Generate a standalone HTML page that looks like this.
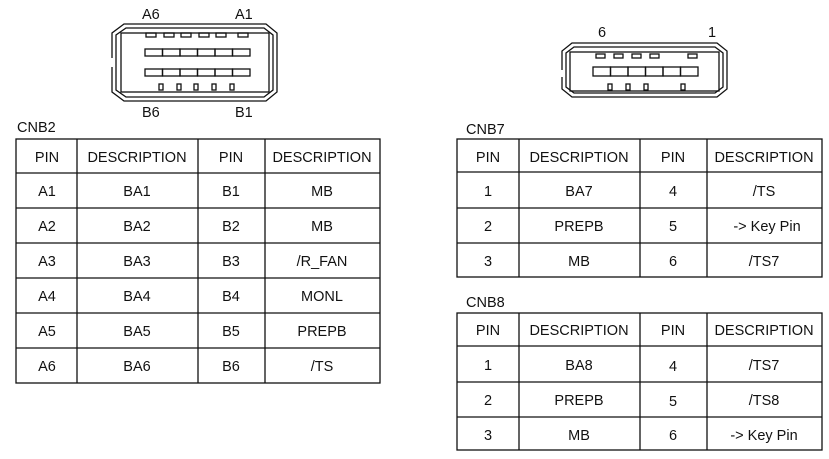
<!DOCTYPE html>
<html><head><meta charset="utf-8"><style>
body{margin:0;background:#fff;width:829px;height:459px;overflow:hidden}
svg{display:block}
text{font-family:"Liberation Sans",Arial,sans-serif;font-size:14.5px;fill:#111}
</style></head><body>
<svg width="829" height="459" viewBox="0 0 829 459" xmlns="http://www.w3.org/2000/svg">
<g fill="none" stroke="#111" stroke-width="1.3">
<polygon points="124,24 266,24 277,33 277,92 266,101 124,101 112,92 112,33"/>
<polygon points="126,28 264,28 273,35 273,90 264,97 126,97 116,90 116,35"/>
<rect x="121" y="33" width="148" height="59"/>
<line x1="112" y1="58" x2="112" y2="67" stroke="#fff" stroke-width="3"/>
<rect x="146" y="33" width="10" height="4"/><rect x="164" y="33" width="10" height="4"/><rect x="181" y="33" width="10" height="4"/><rect x="199" y="33" width="10" height="4"/><rect x="216" y="33" width="10" height="4"/><rect x="238" y="33" width="10" height="4"/>
<rect x="145" y="49" width="17.5" height="7"/><rect x="162.5" y="49" width="17.5" height="7"/><rect x="180" y="49" width="17.5" height="7"/><rect x="197.5" y="49" width="17.5" height="7"/><rect x="215" y="49" width="17.5" height="7"/><rect x="232.5" y="49" width="17.5" height="7"/>
<rect x="145" y="69" width="17.5" height="7"/><rect x="162.5" y="69" width="17.5" height="7"/><rect x="180" y="69" width="17.5" height="7"/><rect x="197.5" y="69" width="17.5" height="7"/><rect x="215" y="69" width="17.5" height="7"/><rect x="232.5" y="69" width="17.5" height="7"/>
<rect x="159" y="84" width="4" height="6"/><rect x="177" y="84" width="4" height="6"/><rect x="194" y="84" width="4" height="6"/><rect x="212" y="84" width="4" height="6"/><rect x="230" y="84" width="4" height="6"/>
<polygon points="572,43 717,43 727,51 727,89 717,97 572,97 562,89 562,51"/>
<polygon points="574,47 715,47 723,53 723,87 715,93 574,93 566,87 566,53"/>
<rect x="570" y="52" width="149" height="39"/>
<line x1="562" y1="70" x2="562" y2="77" stroke="#fff" stroke-width="3"/>
<rect x="596" y="54" width="9" height="4"/><rect x="614" y="54" width="9" height="4"/><rect x="632" y="54" width="9" height="4"/><rect x="650" y="54" width="9" height="4"/><rect x="688" y="54" width="9" height="4"/>
<rect x="593" y="67" width="17.5" height="9"/><rect x="610.5" y="67" width="17.5" height="9"/><rect x="628" y="67" width="17.5" height="9"/><rect x="645.5" y="67" width="17.5" height="9"/><rect x="663" y="67" width="17.5" height="9"/><rect x="680.5" y="67" width="17.5" height="9"/>
<rect x="608" y="84" width="4" height="6"/><rect x="626" y="84" width="4" height="6"/><rect x="644" y="84" width="4" height="6"/><rect x="681" y="84" width="4" height="6"/>
<rect x="16" y="139" width="364" height="244"/>
<line x1="77" y1="139" x2="77" y2="383"/><line x1="198" y1="139" x2="198" y2="383"/><line x1="265" y1="139" x2="265" y2="383"/>
<line x1="16" y1="173" x2="380" y2="173"/><line x1="16" y1="208" x2="380" y2="208"/><line x1="16" y1="243" x2="380" y2="243"/><line x1="16" y1="278" x2="380" y2="278"/><line x1="16" y1="313" x2="380" y2="313"/><line x1="16" y1="348" x2="380" y2="348"/>
<rect x="457" y="139" width="365" height="138"/>
<line x1="519" y1="139" x2="519" y2="277"/><line x1="640" y1="139" x2="640" y2="277"/><line x1="707" y1="139" x2="707" y2="277"/>
<line x1="457" y1="172" x2="822" y2="172"/><line x1="457" y1="208" x2="822" y2="208"/><line x1="457" y1="243" x2="822" y2="243"/>
<rect x="457" y="313" width="365" height="137"/>
<line x1="519" y1="313" x2="519" y2="450"/><line x1="640" y1="313" x2="640" y2="450"/><line x1="707" y1="313" x2="707" y2="450"/>
<line x1="457" y1="346" x2="822" y2="346"/><line x1="457" y1="382" x2="822" y2="382"/><line x1="457" y1="417" x2="822" y2="417"/>
</g>
<text x="142" y="19">A6</text><text x="235" y="19">A1</text>
<text x="142" y="117">B6</text><text x="235" y="117">B1</text>
<text x="598" y="37">6</text><text x="708" y="37">1</text>
<text x="17" y="132">CNB2</text><text x="466" y="134">CNB7</text><text x="466" y="307">CNB8</text>
<g text-anchor="middle">
<text x="47" y="162">PIN</text><text x="137" y="162">DESCRIPTION</text><text x="231" y="162">PIN</text><text x="322" y="162">DESCRIPTION</text>
<text x="47" y="196">A1</text><text x="137" y="196">BA1</text><text x="231" y="196">B1</text><text x="322" y="196">MB</text>
<text x="47" y="231">A2</text><text x="137" y="231">BA2</text><text x="231" y="231">B2</text><text x="322" y="231">MB</text>
<text x="47" y="266">A3</text><text x="137" y="266">BA3</text><text x="231" y="266">B3</text><text x="322" y="266">/R_FAN</text>
<text x="47" y="301">A4</text><text x="137" y="301">BA4</text><text x="231" y="301">B4</text><text x="322" y="301">MONL</text>
<text x="47" y="336">A5</text><text x="137" y="336">BA5</text><text x="231" y="336">B5</text><text x="322" y="336">PREPB</text>
<text x="47" y="371">A6</text><text x="137" y="371">BA6</text><text x="231" y="371">B6</text><text x="322" y="371">/TS</text>

<text x="488" y="162">PIN</text><text x="579" y="162">DESCRIPTION</text><text x="673" y="162">PIN</text><text x="764" y="162">DESCRIPTION</text>
<text x="488" y="196">1</text><text x="579" y="196">BA7</text><text x="673" y="196">4</text><text x="764" y="196">/TS</text>
<text x="488" y="231">2</text><text x="579" y="231">PREPB</text><text x="673" y="231">5</text><text x="767" y="231">-&gt; Key Pin</text>
<text x="488" y="266">3</text><text x="579" y="266">MB</text><text x="673" y="266">6</text><text x="764" y="266">/TS7</text>

<text x="488" y="335">PIN</text><text x="579" y="335">DESCRIPTION</text><text x="673" y="335">PIN</text><text x="764" y="335">DESCRIPTION</text>
<text x="488" y="370">1</text><text x="579" y="370">BA8</text><text x="673" y="371">4</text><text x="764" y="370">/TS7</text>
<text x="488" y="405">2</text><text x="579" y="405">PREPB</text><text x="673" y="406">5</text><text x="764" y="405">/TS8</text>
<text x="488" y="440">3</text><text x="579" y="440">MB</text><text x="673" y="440">6</text><text x="764" y="440">-&gt; Key Pin</text>
</g>
</svg>
</body></html>
